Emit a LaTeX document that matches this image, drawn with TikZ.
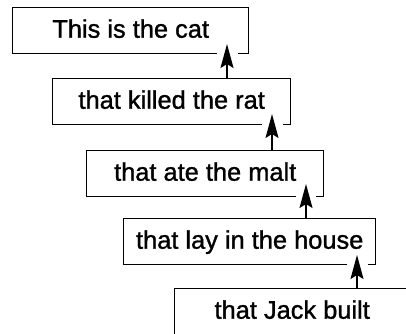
\documentclass[tikz,border=0pt]{standalone}
\usepackage{fontspec}
\newfontfamily\clausefont{Liberation Sans}[FakeBold=1.2]
\usetikzlibrary{arrows.meta}
\begin{document}
\begin{tikzpicture}[x=1pt, y=-1pt,
  box/.style={draw, line width=1.4pt, anchor=north west, inner sep=0pt,
    minimum height=46pt, text height=20pt, text depth=6pt,
    font=\clausefont\fontsize{25.4}{30}\selectfont},
  link/.style={line width=1.4pt, -{Stealth[length=24pt, width=13pt, inset=4pt]}},
  gap/.style={white, line width=3pt}]
  \clip (0,0) rectangle (406,333);
  \fill[white] (0,0) rectangle (406,333);

  % the chain of clauses, each one offset to the right
  \node[box, minimum width=236pt] (b1) at (12,7)   {This is the cat};
  \node[box, minimum width=238pt] (b2) at (52,78)  {that killed the rat};
  \node[box, minimum width=237pt] (b3) at (86,150) {that ate the malt};
  \node[box, minimum width=252pt] (b4) at (123,218){that lay in the house};
  \node[box, minimum width=235pt] (b5) at (174,288){that Jack built};

  % arrow tips, just inside the box above
  \coordinate (t1) at (227,44);
  \coordinate (t2) at (272,114);
  \coordinate (t3) at (306,184);
  \coordinate (t4) at (357,255);

  % open the bottom edge where each arrow enters
  \draw[gap] ([xshift=-10pt]t1 |- b1.south) -- ([xshift=11pt]t1 |- b1.south);
  \draw[gap] ([xshift=-10pt]t2 |- b2.south) -- ([xshift=11pt]t2 |- b2.south);
  \draw[gap] ([xshift=-10pt]t3 |- b3.south) -- ([xshift=10pt]t3 |- b3.south);
  \draw[gap] ([xshift=-10pt]t4 |- b4.south) -- ([xshift=11pt]t4 |- b4.south);

  % each clause points up to the one it qualifies
  \draw[link] (t1 |- b2.north) -- (t1);
  \draw[link] (t2 |- b3.north) -- (t2);
  \draw[link] (t3 |- b4.north) -- (t3);
  \draw[link] (t4 |- b5.north) -- (t4);
\end{tikzpicture}
\end{document}
